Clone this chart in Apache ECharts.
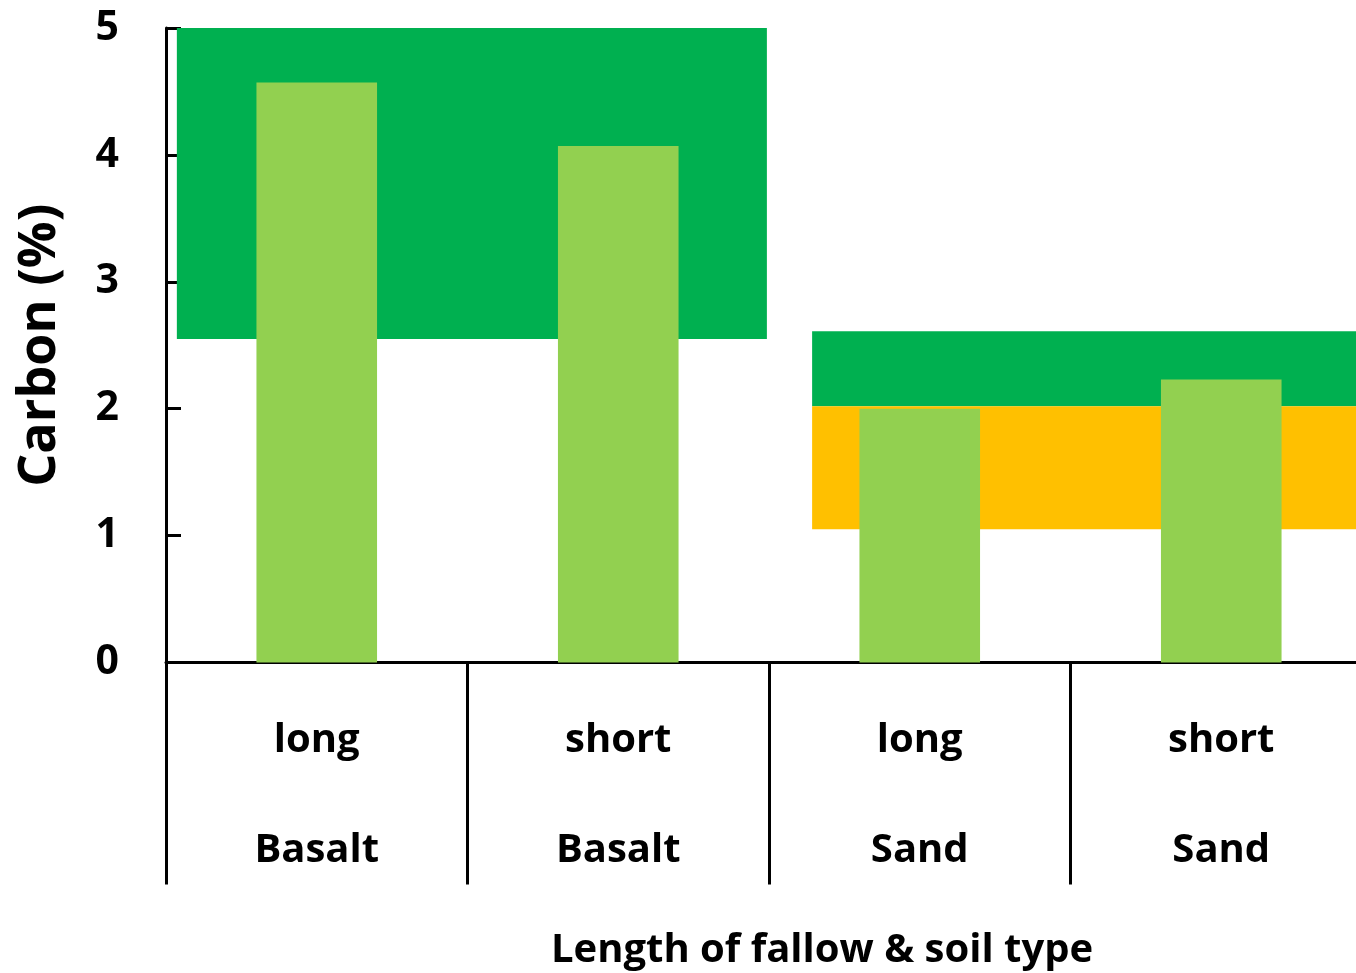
<!DOCTYPE html>
<html>
<head>
<meta charset="utf-8">
<script src="https://cdn.jsdelivr.net/npm/echarts@6/dist/echarts.min.js"></script>
<style>
html,body{margin:0;padding:0;background:#fff;overflow:hidden;}
#chart{width:1372px;height:973px;}
</style>
</head>
<body>
<div id="chart"></div>
<script>
// Data
const fallow = ['long', 'short', 'long', 'short'];
const soil = ['Basalt', 'Basalt', 'Sand', 'Sand'];
const carbon = [4.57, 4.07, 2.00, 2.23];
const yTicks = [0, 1, 2, 3, 4, 5];
// Reference bands: [xStart, xEnd (in category-slot units), yLow, yHigh]
const bandBasaltGreen = [0.036, 1.993, 2.55, 5.00];
const bandSandGreen = [2.143, 4.0, 2.02, 2.61];
const bandSandOrange = [2.143, 4.0, 1.05, 2.02];

const FONT = '"Open Sans", "Noto Sans", sans-serif';
const categories = fallow.map((f, i) => f + '|' + soil[i]);

const bands = [
  {value: bandBasaltGreen, color: '#00B050'},
  {value: bandSandGreen, color: '#00B050'},
  {value: bandSandOrange, color: '#FFC000'}
];

const chart = echarts.init(document.getElementById('chart'), null, {renderer: 'canvas'});
chart.setOption({
  backgroundColor: '#ffffff',
  animation: false,
  grid: {left: 166, top: 28, right: 0, height: 634.5, containLabel: false, outerBoundsMode: 'none'},
  xAxis: [
    {
      type: 'category',
      data: categories,
      boundaryGap: true,
      axisLine: {show: true, lineStyle: {color: '#000', width: 3}},
      axisTick: {show: true, length: 222, inside: false, lineStyle: {color: '#000', width: 3}, alignWithLabel: false},
      axisLabel: {
        interval: 0,
        margin: 23,
        formatter: function (v) {
          const p = v.split('|');
          return '{a|' + p[0] + '}\n{b|' + p[1] + '}';
        },
        rich: {
          a: {fontFamily: FONT, fontWeight: 'bold', fontSize: 40, color: '#000', lineHeight: 110, verticalAlign: 'middle'},
          b: {fontFamily: FONT, fontWeight: 'bold', fontSize: 40, color: '#000', lineHeight: 110, verticalAlign: 'middle'}
        }
      },
      splitLine: {show: false},
      name: 'Length of fallow & soil type',
      nameLocation: 'middle',
      nameGap: 268,
      nameTextStyle: {fontFamily: FONT, fontWeight: 'bold', fontSize: 40, color: '#000', padding: [0, 0, 0, 106]}
    },
    {
      type: 'value',
      min: 0,
      max: 4,
      show: false
    }
  ],
  yAxis: {
    type: 'value',
    min: 0,
    max: 5,
    interval: 1,
    axisLine: {show: true, lineStyle: {color: '#000', width: 3}},
    axisTick: {show: true, inside: true, length: 15, lineStyle: {color: '#000', width: 3}},
    axisLabel: {
      margin: 47,
      fontFamily: FONT, fontWeight: 'bold', fontSize: 41, color: '#000',
      formatter: function (v) { return yTicks.indexOf(v) >= 0 ? String(v) : ''; }
    },
    splitLine: {show: false},
    name: 'Carbon (%)',
    nameLocation: 'middle',
    nameGap: 100,
    nameTextStyle: {fontFamily: FONT, fontWeight: 'bold', fontSize: 52, color: '#000'}
  },
  series: [
    {
      type: 'custom',
      xAxisIndex: 1,
      yAxisIndex: 0,
      z: 1,
      clip: true,
      silent: true,
      data: bands.map(b => b.value),
      renderItem: function (params, api) {
        const p0 = api.coord([api.value(0), api.value(3)]);
        const p1 = api.coord([api.value(1), api.value(2)]);
        return {
          type: 'rect',
          shape: {x: p0[0], y: p0[1], width: p1[0] - p0[0], height: p1[1] - p0[1]},
          style: {fill: bands[params.dataIndex].color}
        };
      }
    },
    {
      type: 'bar',
      xAxisIndex: 0,
      yAxisIndex: 0,
      z: 3,
      data: carbon,
      barWidth: '40%',
      itemStyle: {color: '#92D050'}
    }
  ]
});
</script>
</body>
</html>
